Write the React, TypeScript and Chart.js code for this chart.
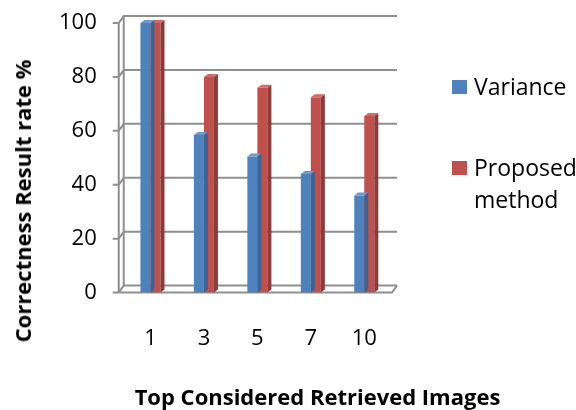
import React, { useEffect, useRef } from "react";
import { Chart, registerables } from "chart.js";

Chart.register(...registerables);

const categories = ["1", "3", "5", "7", "10"];
const varianceValues = [100, 58.5, 50.5, 44, 36];
const proposedValues = [100, 80, 76, 72.5, 65.5];
const seriesNames = ["Variance", "Proposed method"];
const seriesColors = ["#4F81BD", "#C0504D"];
const sideColors = ["#3A6491", "#8F3A38"];
const topColors = ["#6F98CB", "#D06C69"];
const yTitle = "Correctness Result rate %";
const xTitle = "Top Considered Retrieved Images";

const FONT = "'Open Sans', sans-serif";
const DX = 5;
const DY = 7;

const framePlugin = {
  id: "frame3d",
  beforeDatasetsDraw(chart: any) {
    const { ctx, chartArea } = chart;
    const ys = chart.scales.y;
    const frontX = chartArea.left - 5;
    const backX = frontX + DX;
    const rightX = chartArea.right + 6;
    ctx.save();
    ctx.strokeStyle = "#8f8f8f";
    ctx.lineWidth = 2;
    ctx.beginPath();
    ys.ticks.forEach((t: any) => {
      const y = ys.getPixelForValue(t.value);
      ctx.moveTo(frontX - 6, y);
      ctx.lineTo(frontX, y);
      ctx.lineTo(backX, y - DY);
      ctx.lineTo(rightX, y - DY);
    });
    const top = ys.getPixelForValue(ys.max);
    const bottom = ys.getPixelForValue(ys.min);
    ctx.moveTo(frontX, top);
    ctx.lineTo(frontX, bottom);
    ctx.moveTo(backX, top - DY);
    ctx.lineTo(backX, bottom - DY);
    ctx.moveTo(frontX, bottom);
    ctx.lineTo(rightX - DX, bottom);
    ctx.lineTo(rightX, bottom - DY);
    ctx.stroke();
    ctx.restore();
  },
  afterDatasetDraw(chart: any, args: any) {
    const { ctx } = chart;
    const meta = chart.getDatasetMeta(args.index);
    const i = args.index;
    const bx = 4;
    const by = 3;
    ctx.save();
    meta.data.forEach((bar: any) => {
      const { x, y, base, width } = bar.getProps(["x", "y", "base", "width"], true);
      const l = x - width / 2;
      const r = x + width / 2;
      ctx.fillStyle = sideColors[i];
      ctx.beginPath();
      ctx.moveTo(r, y);
      ctx.lineTo(r + bx, y - by);
      ctx.lineTo(r + bx, base - by);
      ctx.lineTo(r, base);
      ctx.closePath();
      ctx.fill();
      ctx.fillStyle = topColors[i];
      ctx.beginPath();
      ctx.moveTo(l, y);
      ctx.lineTo(l + bx, y - by);
      ctx.lineTo(r + bx, y - by);
      ctx.lineTo(r, y);
      ctx.closePath();
      ctx.fill();
    });
    ctx.restore();
  },
};

export default function App() {
  const ref = useRef<HTMLCanvasElement | null>(null);

  useEffect(() => {
    if (!ref.current) return;
    const chart = new Chart(ref.current, {
      type: "bar",
      data: {
        labels: categories,
        datasets: [
          {
            label: seriesNames[0],
            data: varianceValues,
            backgroundColor: seriesColors[0],
            categoryPercentage: 0.375,
            barPercentage: 1,
          },
          {
            label: seriesNames[1],
            data: proposedValues,
            backgroundColor: seriesColors[1],
            categoryPercentage: 0.375,
            barPercentage: 1,
          },
        ],
      },
      options: {
        animation: false,
        responsive: false,
        maintainAspectRatio: false,
        layout: { padding: { top: 23, right: 185, bottom: 25, left: 32 } },
        plugins: {
          legend: { display: false },
          tooltip: { enabled: false },
        },
        scales: {
          x: {
            grid: { display: false, drawTicks: false },
            border: { display: false },
            ticks: {
              color: "#000",
              font: { family: FONT, size: 22 },
              padding: 33,
            },
          },
          y: {
            min: 0,
            max: 100,
            grid: { display: false, drawTicks: false },
            border: { display: false },
            afterFit: (scale: any) => {
              scale.paddingTop = 0;
              scale.paddingBottom = 0;
            },
            ticks: {
              stepSize: 20,
              color: "#000",
              font: { family: FONT, size: 22 },
              padding: 27,
            },
          },
        },
      },
      plugins: [framePlugin],
    });
    return () => chart.destroy();
  }, []);

  const legendText: React.CSSProperties = {
    fontFamily: FONT,
    fontSize: 23,
    lineHeight: "32px",
    color: "#000",
    whiteSpace: "nowrap",
  };

  return (
    <div
      style={{
        position: "fixed",
        left: 0,
        top: 0,
        width: 576,
        height: 410,
        background: "#fff",
        overflow: "hidden",
      }}
    >
      <canvas ref={ref} width={576} height={410} style={{ position: "absolute", left: 0, top: 0, width: 576, height: 410 }} />
      <div
        style={{
          position: "absolute",
          left: 22,
          top: 201,
          transform: "translate(-50%, -50%) rotate(-90deg)",
          fontFamily: FONT,
          fontSize: 22,
          fontWeight: "bold",
          lineHeight: "30px",
          color: "#000",
          whiteSpace: "nowrap",
        }}
      >
        {yTitle}
      </div>
      <div style={{ position: "absolute", left: 452, top: 80, width: 15, height: 14, background: seriesColors[0] }} />
      <div style={{ ...legendText, position: "absolute", left: 474, top: 70 }}>{seriesNames[0]}</div>
      <div style={{ position: "absolute", left: 452, top: 161, width: 15, height: 14, background: seriesColors[1] }} />
      <div style={{ ...legendText, position: "absolute", left: 474, top: 151, width: 110, whiteSpace: "normal" }}>
        {seriesNames[1]}
      </div>
      <div
        style={{
          position: "absolute",
          left: 317.5 - 250,
          top: 381,
          width: 500,
          textAlign: "center",
          fontFamily: FONT,
          fontSize: 22,
          fontWeight: "bold",
          lineHeight: "30px",
          color: "#000",
          whiteSpace: "nowrap",
        }}
      >
        {xTitle}
      </div>
    </div>
  );
}
